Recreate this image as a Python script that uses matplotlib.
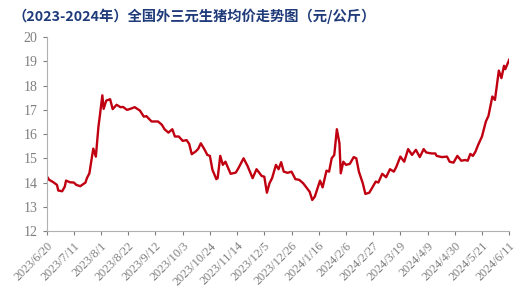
import pandas as pd
import matplotlib.pyplot as plt
import matplotlib.dates as mdates

dates = [
    '2023-06-20', '2023-06-22', '2023-06-25', '2023-06-28', '2023-06-29', '2023-07-02',
    '2023-07-04', '2023-07-05', '2023-07-08', '2023-07-11', '2023-07-13', '2023-07-16',
    '2023-07-20', '2023-07-21', '2023-07-23', '2023-07-26', '2023-07-28', '2023-07-30',
    '2023-07-31', '2023-08-02', '2023-08-03', '2023-08-05', '2023-08-08', '2023-08-10',
    '2023-08-13', '2023-08-16', '2023-08-18', '2023-08-21', '2023-08-23', '2023-08-27',
    '2023-08-31', '2023-09-03', '2023-09-05', '2023-09-09', '2023-09-14', '2023-09-17',
    '2023-09-19', '2023-09-22', '2023-09-25', '2023-09-27', '2023-09-30', '2023-10-03',
    '2023-10-06', '2023-10-08', '2023-10-10', '2023-10-13', '2023-10-15', '2023-10-17',
    '2023-10-20', '2023-10-22', '2023-10-24', '2023-10-26', '2023-10-29', '2023-10-30',
    '2023-11-01', '2023-11-03', '2023-11-05', '2023-11-09', '2023-11-13', '2023-11-15',
    '2023-11-19', '2023-11-22', '2023-11-26', '2023-11-29', '2023-12-03', '2023-12-05',
    '2023-12-07', '2023-12-09', '2023-12-11', '2023-12-14', '2023-12-16', '2023-12-18',
    '2023-12-20', '2023-12-23', '2023-12-26', '2023-12-29', '2024-01-01', '2024-01-04',
    '2024-01-06', '2024-01-09', '2024-01-11', '2024-01-13', '2024-01-17', '2024-01-19',
    '2024-01-22', '2024-01-24', '2024-01-26', '2024-01-28', '2024-01-30', '2024-02-01',
    '2024-02-02', '2024-02-04', '2024-02-06', '2024-02-09', '2024-02-12', '2024-02-14',
    '2024-02-16', '2024-02-19', '2024-02-21', '2024-02-24', '2024-02-26', '2024-02-29',
    '2024-03-02', '2024-03-05', '2024-03-08', '2024-03-11', '2024-03-14', '2024-03-16',
    '2024-03-19', '2024-03-22', '2024-03-25', '2024-03-28', '2024-03-31', '2024-04-03',
    '2024-04-06', '2024-04-08', '2024-04-12', '2024-04-15', '2024-04-16', '2024-04-20',
    '2024-04-24', '2024-04-26', '2024-04-29', '2024-05-02', '2024-05-05', '2024-05-08',
    '2024-05-10', '2024-05-12', '2024-05-14', '2024-05-16', '2024-05-18', '2024-05-21',
    '2024-05-24', '2024-05-26', '2024-05-29', '2024-05-31', '2024-06-03', '2024-06-05',
    '2024-06-07', '2024-06-08', '2024-06-11',
]
prices = [
    14.27, 14.11, 14.02, 13.90, 13.67, 13.64,
    13.83, 14.08, 14.01, 14.00, 13.90, 13.85,
    14.00, 14.17, 14.38, 15.40, 15.07, 16.31,
    16.72, 17.60, 17.04, 17.38, 17.44, 17.03,
    17.21, 17.11, 17.12, 17.00, 17.03, 17.11,
    16.97, 16.72, 16.74, 16.52, 16.52, 16.38,
    16.20, 16.06, 16.20, 15.90, 15.90, 15.72,
    15.75, 15.60, 15.17, 15.28, 15.39, 15.62,
    15.35, 15.14, 15.10, 14.52, 14.14, 14.18,
    15.10, 14.73, 14.86, 14.36, 14.41, 14.59,
    15.00, 14.69, 14.18, 14.55, 14.27, 14.24,
    13.58, 13.97, 14.18, 14.73, 14.55, 14.84,
    14.45, 14.40, 14.45, 14.14, 14.11, 13.97,
    13.83, 13.62, 13.28, 13.42, 14.08, 13.80,
    14.49, 14.45, 15.00, 15.14, 16.20, 15.62,
    14.38, 14.86, 14.73, 14.77, 15.05, 15.00,
    14.45, 13.97, 13.53, 13.58, 13.76, 14.04,
    14.00, 14.36, 14.22, 14.55, 14.45, 14.66,
    15.07, 14.86, 15.38, 15.14, 15.35, 15.05,
    15.38, 15.24, 15.20, 15.20, 15.10, 15.05,
    15.07, 14.86, 14.82, 15.10, 14.90, 14.93,
    14.90, 15.18, 15.10, 15.28, 15.55, 15.90,
    16.52, 16.75, 17.55, 17.41, 18.62, 18.31,
    18.82, 18.68, 19.07,
]
title = '（2023-2024年）全国外三元生猪均价走势图（元/公斤）'

x = pd.to_datetime(dates)
tick_dates = pd.date_range('2023-06-20', '2024-06-11', freq='21D')
tick_labels = [f'{d.year}/{d.month}/{d.day}' for d in tick_dates]

gray = '#7f7f7f'
fig = plt.figure(figsize=(5.18, 2.95), dpi=100)
ax = fig.add_axes([0.090, 0.217, 0.893, 0.657])
ax.plot(x, prices, color='#c00010', linewidth=1.7)

ax.set_ylim(12, 20)
ax.set_yticks(range(12, 21))
ax.set_xlim(tick_dates[0], tick_dates[-1])
ax.set_xticks(tick_dates)
ax.set_xticklabels(tick_labels, rotation=45, ha='right', rotation_mode='anchor')

for lab in ax.get_yticklabels():
    lab.set_fontfamily('Liberation Serif')
    lab.set_fontsize(10)
for lab in ax.get_xticklabels():
    lab.set_fontfamily('Liberation Serif')
    lab.set_fontsize(8.8)

ax.tick_params(colors=gray, length=3, width=0.8)
for s in ['top', 'right']:
    ax.spines[s].set_visible(False)
for s in ['left', 'bottom']:
    ax.spines[s].set_color('#b0b0b0')
    ax.spines[s].set_linewidth(0.8)

fig.text(0.025, 0.945, title, fontsize=10.3, fontweight='bold', color='#1f3b7a',
         family=['Noto Sans CJK SC', 'DejaVu Sans'], va='center', ha='left')

fig.savefig('out.png', dpi=100)
